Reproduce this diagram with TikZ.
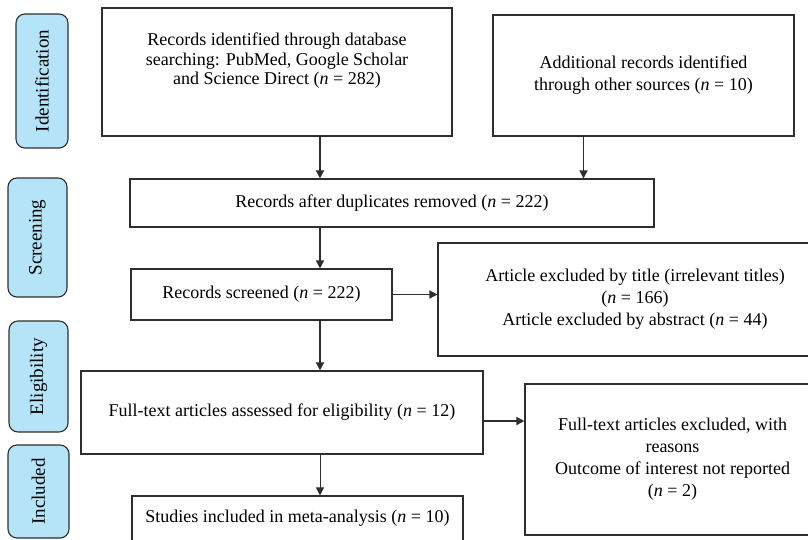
\documentclass[tikz,border=0pt]{standalone}
\usepackage{fontspec}
\setmainfont{Liberation Serif}
\usepackage{xcolor}
\usetikzlibrary{arrows.meta,positioning}
\definecolor{edgex}{HTML}{2E2E2E}
\definecolor{stagebg}{HTML}{B5E4F8}
\tikzset{
  ar/.style={-{Triangle[length=8pt,width=8pt]},line width=1.6pt,edgex},
  box/.style={draw=edgex,line width=1.1pt,align=center,inner sep=0pt,font=\fontsize{18}{22}\selectfont},
  stage/.style={draw=edgex,line width=1.1pt,rounded corners=9pt,fill=stagebg,rotate=90,inner sep=0pt,font=\fontsize{19}{22}\selectfont}
}

\begin{document}
\begin{tikzpicture}[x=1pt,y=-1pt]
\clip (0,0) rectangle (808,539);
% stages
\node[stage,minimum width=134pt,minimum height=52pt] (sid) at (42,81) {Identification};
\node[stage,minimum width=119pt,minimum height=59pt] (sscr) at (37.5,237.5) {Screening};
\node[stage,minimum width=111pt,minimum height=59pt] (selig) at (38.5,376.5) {Eligibility};
\node[stage,minimum width=93pt,minimum height=61pt] (sinc) at (38.5,491.5) {Included};
% boxes
\node[box,font=\fontsize{18}{19.5}\selectfont,minimum width=350pt,minimum height=128pt] (rid) at (277,72) {Records identified through database\\searching: PubMed, Google Scholar\\and Science Direct (\textit{n} = 282)\\[6.5pt]\mbox{}};
\node[box,minimum width=301pt,minimum height=121pt] (add) at (643.5,75.5) {Additional records identified\\through other sources (\textit{n} = 10)};
\node[box,minimum width=524pt,minimum height=48pt] (dup) at (392,203) {Records after duplicates removed (\textit{n} = 222)};
\node[box,minimum width=261pt,minimum height=51pt] (scr) at (261.5,294.5) {Records screened (\textit{n} = 222)};
\node[box,minimum width=394pt,minimum height=113pt] (exa) at (635,299.5) {Article excluded by title (irrelevant titles)\\(\textit{n} = 166)\\Article excluded by abstract (\textit{n} = 44)};
\node[box,minimum width=402pt,minimum height=83pt] (full) at (282,412.5) {Full-text articles assessed for eligibility (\textit{n} = 12)};
\node[box,minimum width=295pt,minimum height=151pt] (exf) at (672.5,459.5) {Full-text articles excluded, with\\reasons\\Outcome of interest not reported\\(\textit{n} = 2)};
\node[box,minimum width=331pt,minimum height=45pt] (inc) at (297.5,518.5) {Studies included in meta-analysis (\textit{n} = 10)};
% arrows
\coordinate (axis) at (320,0);
\draw[ar] (rid.south -| axis) -- (dup.north -| axis);
\draw[ar] ([xshift=-60pt]add.south) -- ([xshift=-60pt]add.south |- dup.north);
\draw[ar] (dup.south -| axis) -- (scr.north -| axis);
\draw[ar] (scr.east) -- (scr.east -| exa.west);
\draw[ar] (scr.south -| axis) -- (full.north -| axis);
\draw[ar] ([yshift=-8.5pt]full.east) -- ([yshift=-8.5pt]full.east -| exf.west);
\draw[ar,line width=1pt] (full.south -| axis) -- (inc.north -| axis);
\end{tikzpicture}
\end{document}
